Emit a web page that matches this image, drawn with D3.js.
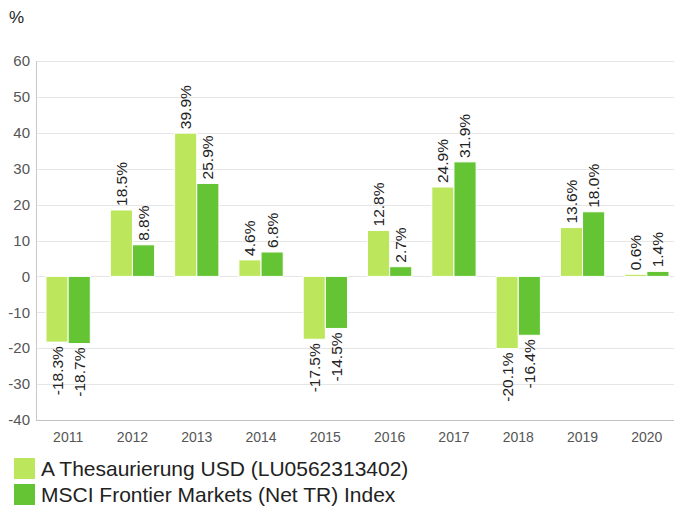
<!DOCTYPE html>
<html>
<head>
<meta charset="utf-8">
<script src="https://cdn.jsdelivr.net/npm/d3@7"></script>
<style>
  body { margin: 0; background: #fff; }
  svg { display: block; font-family: "Liberation Sans", Arial, sans-serif; }
</style>
</head>
<body>
<svg width="674" height="507"></svg>
<script>
const years = ['2011', '2012', '2013', '2014', '2015', '2016', '2017', '2018', '2019', '2020'];
const fundValues = [-18.3, 18.5, 39.9, 4.6, -17.5, 12.8, 24.9, -20.1, 13.6, 0.6];
const indexValues = [-18.7, 8.8, 25.9, 6.8, -14.5, 2.7, 31.9, -16.4, 18.0, 1.4];
const seriesNames = ['A Thesaurierung USD (LU0562313402)', 'MSCI Frontier Markets (Net TR) Index'];
const yTicks = [-40, -30, -20, -10, 0, 10, 20, 30, 40, 50, 60];

const colors = ['#bce65c', '#64c434'];
const svg = d3.select('svg');

const x = d3.scaleBand()
    .domain(years)
    .range([36, 679]);

const sub = d3.scaleBand()
    .domain([0, 1])
    .range([10, x.bandwidth() - 10]);

const y = d3.scaleLinear()
    .domain([-40, 60])
    .range([420, 61]);

// gridlines
svg.append('g')
    .selectAll('line')
    .data(yTicks)
    .enter()
    .append('line')
    .attr('x1', 36)
    .attr('x2', 674)
    .attr('y1', d => Math.round(y(d)) + 0.5)
    .attr('y2', d => Math.round(y(d)) + 0.5)
    .style('stroke', '#e6e6e6');

// y labels
svg.append('g')
    .selectAll('text')
    .data(yTicks)
    .enter()
    .append('text')
    .attr('x', 30)
    .attr('y', d => y(d))
    .attr('dy', '0.35em')
    .attr('text-anchor', 'end')
    .style('font-size', '15px')
    .style('fill', '#555')
    .text(d => d);

svg.append('text')
    .attr('x', 9)
    .attr('y', 23)
    .style('font-size', '17px')
    .style('fill', '#222')
    .text('%');

const data = years.map((yr, i) => ({year: yr, values: [fundValues[i], indexValues[i]]}));

const groups = svg.append('g')
    .selectAll('g')
    .data(data)
    .enter()
    .append('g')
    .attr('transform', d => `translate(${x(d.year)},0)`);

groups.selectAll('rect')
    .data(d => d.values.map((v, k) => ({v, k})))
    .enter()
    .append('rect')
    .attr('x', d => sub(d.k))
    .attr('width', sub.bandwidth())
    .attr('y', d => y(Math.max(0, d.v)))
    .attr('height', d => Math.abs(y(d.v) - y(0)))
    .style('fill', d => colors[d.k])
    .style('stroke', '#fff')
    .style('stroke-width', '1px');

groups.selectAll('text')
    .data(d => d.values.map((v, k) => ({v, k})))
    .enter()
    .append('text')
    .attr('transform', d => {
      const cx = sub(d.k) + sub.bandwidth() / 2;
      const cy = d.v >= 0 ? y(d.v) - 4 : y(d.v) + 4;
      return `translate(${cx},${cy}) rotate(-90)`;
    })
    .attr('dy', '0.35em')
    .attr('text-anchor', d => d.v >= 0 ? 'start' : 'end')
    .style('font-size', '15.5px')
    .style('fill', '#222')
    .text(d => d.v.toFixed(1) + '%');

// axes lines
svg.append('line')
    .attr('x1', 36.5).attr('x2', 36.5)
    .attr('y1', 61).attr('y2', 420)
    .style('stroke', '#c8c8c8');

svg.append('line')
    .attr('x1', 36).attr('x2', 674)
    .attr('y1', 420.5).attr('y2', 420.5)
    .style('stroke', '#c0c0c0');

svg.append('g')
    .selectAll('text')
    .data(years)
    .enter()
    .append('text')
    .attr('x', d => x(d) + x.bandwidth() / 2)
    .attr('y', 442)
    .attr('text-anchor', 'middle')
    .style('font-size', '14px')
    .style('fill', '#555')
    .text(d => d);

// legend
const legend = svg.append('g')
    .selectAll('g')
    .data(seriesNames)
    .enter()
    .append('g')
    .attr('transform', (d, i) => `translate(14,${458 + i * 26})`);

legend.append('rect')
    .attr('width', 21)
    .attr('height', 21)
    .style('fill', (d, i) => colors[i]);

legend.append('text')
    .attr('x', 27)
    .attr('y', 18)
    .style('font-size', '21px')
    .style('fill', '#222')
    .text(d => d);
</script>
</body>
</html>
